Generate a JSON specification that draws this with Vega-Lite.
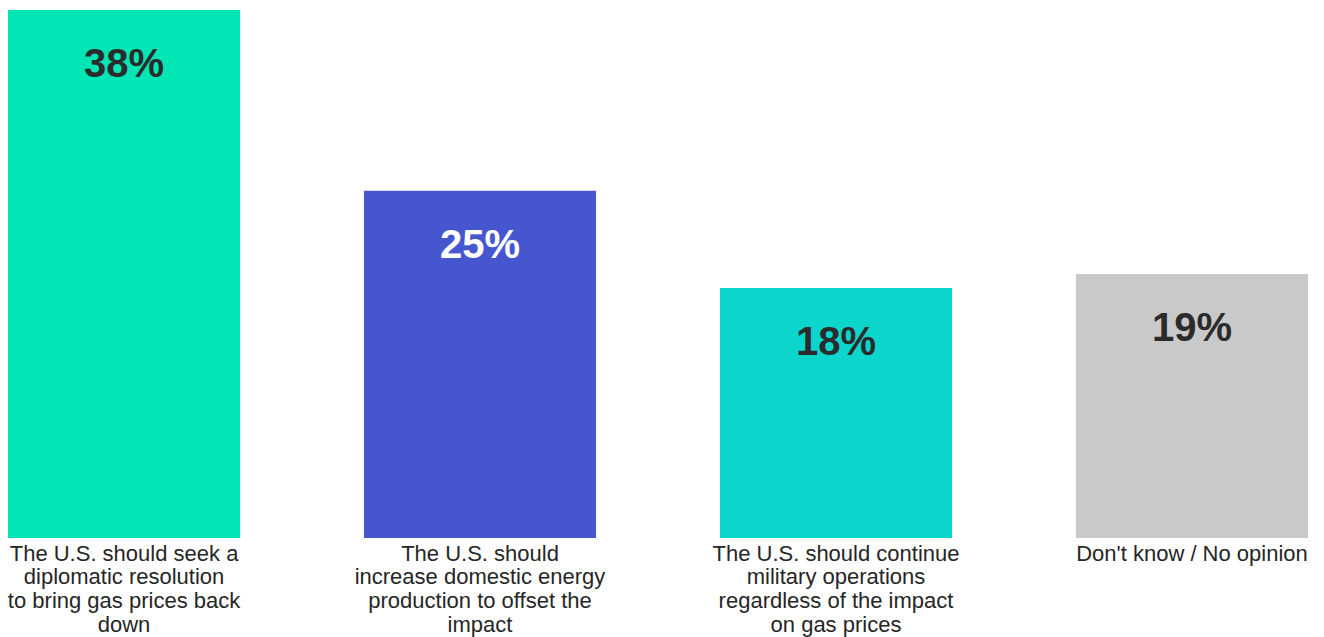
{
  "$schema": "https://vega.github.io/schema/vega-lite/v6.json",
  "width": 1300,
  "height": 528,
  "autosize": {"type": "none"},
  "padding": {"left": 8, "top": 10, "right": 16, "bottom": 99},
  "background": "white",
  "config": {"view": {"stroke": null}, "font": "Liberation Sans"},
  "data": {"values": [
    {"answer": "The U.S. should seek a|diplomatic resolution|to bring gas prices back|down", "pct": 38, "label": "38%", "color": "#02E5B5", "tcolor": "#2b2b2b"},
    {"answer": "The U.S. should|increase domestic energy|production to offset the|impact", "pct": 25, "label": "25%", "color": "#4656CE", "tcolor": "#ffffff"},
    {"answer": "The U.S. should continue|military operations|regardless of the impact|on gas prices", "pct": 18, "label": "18%", "color": "#0CD6CC", "tcolor": "#2b2b2b"},
    {"answer": "Don't know / No opinion", "pct": 19, "label": "19%", "color": "#C9C9C9", "tcolor": "#2b2b2b"}
  ]},
  "encoding": {
    "x": {"field": "answer", "type": "nominal", "sort": null,
      "scale": {"paddingInner": 0.348, "paddingOuter": 0},
      "axis": {"title": null, "labelAngle": 0, "domain": false, "ticks": false, "labelPadding": 5,
        "labelExpr": "split(datum.value, '|')", "labelFontSize": 22, "labelLineHeight": 23.8,
        "labelColor": "#262626", "labelLimit": 0, "labelBaseline": "top", "labelFont": "Liberation Sans"}},
    "y": {"field": "pct", "type": "quantitative", "scale": {"domain": [0, 38], "nice": false}, "axis": null}
  },
  "layer": [
    {"mark": {"type": "bar"}, "encoding": {"color": {"field": "color", "type": "nominal", "scale": null}}},
    {"mark": {"type": "text", "baseline": "alphabetic", "dy": 67, "fontSize": 40, "fontWeight": "bold", "font": "Liberation Sans"},
      "encoding": {"text": {"field": "label"}, "color": {"field": "tcolor", "type": "nominal", "scale": null}}}
  ]
}
